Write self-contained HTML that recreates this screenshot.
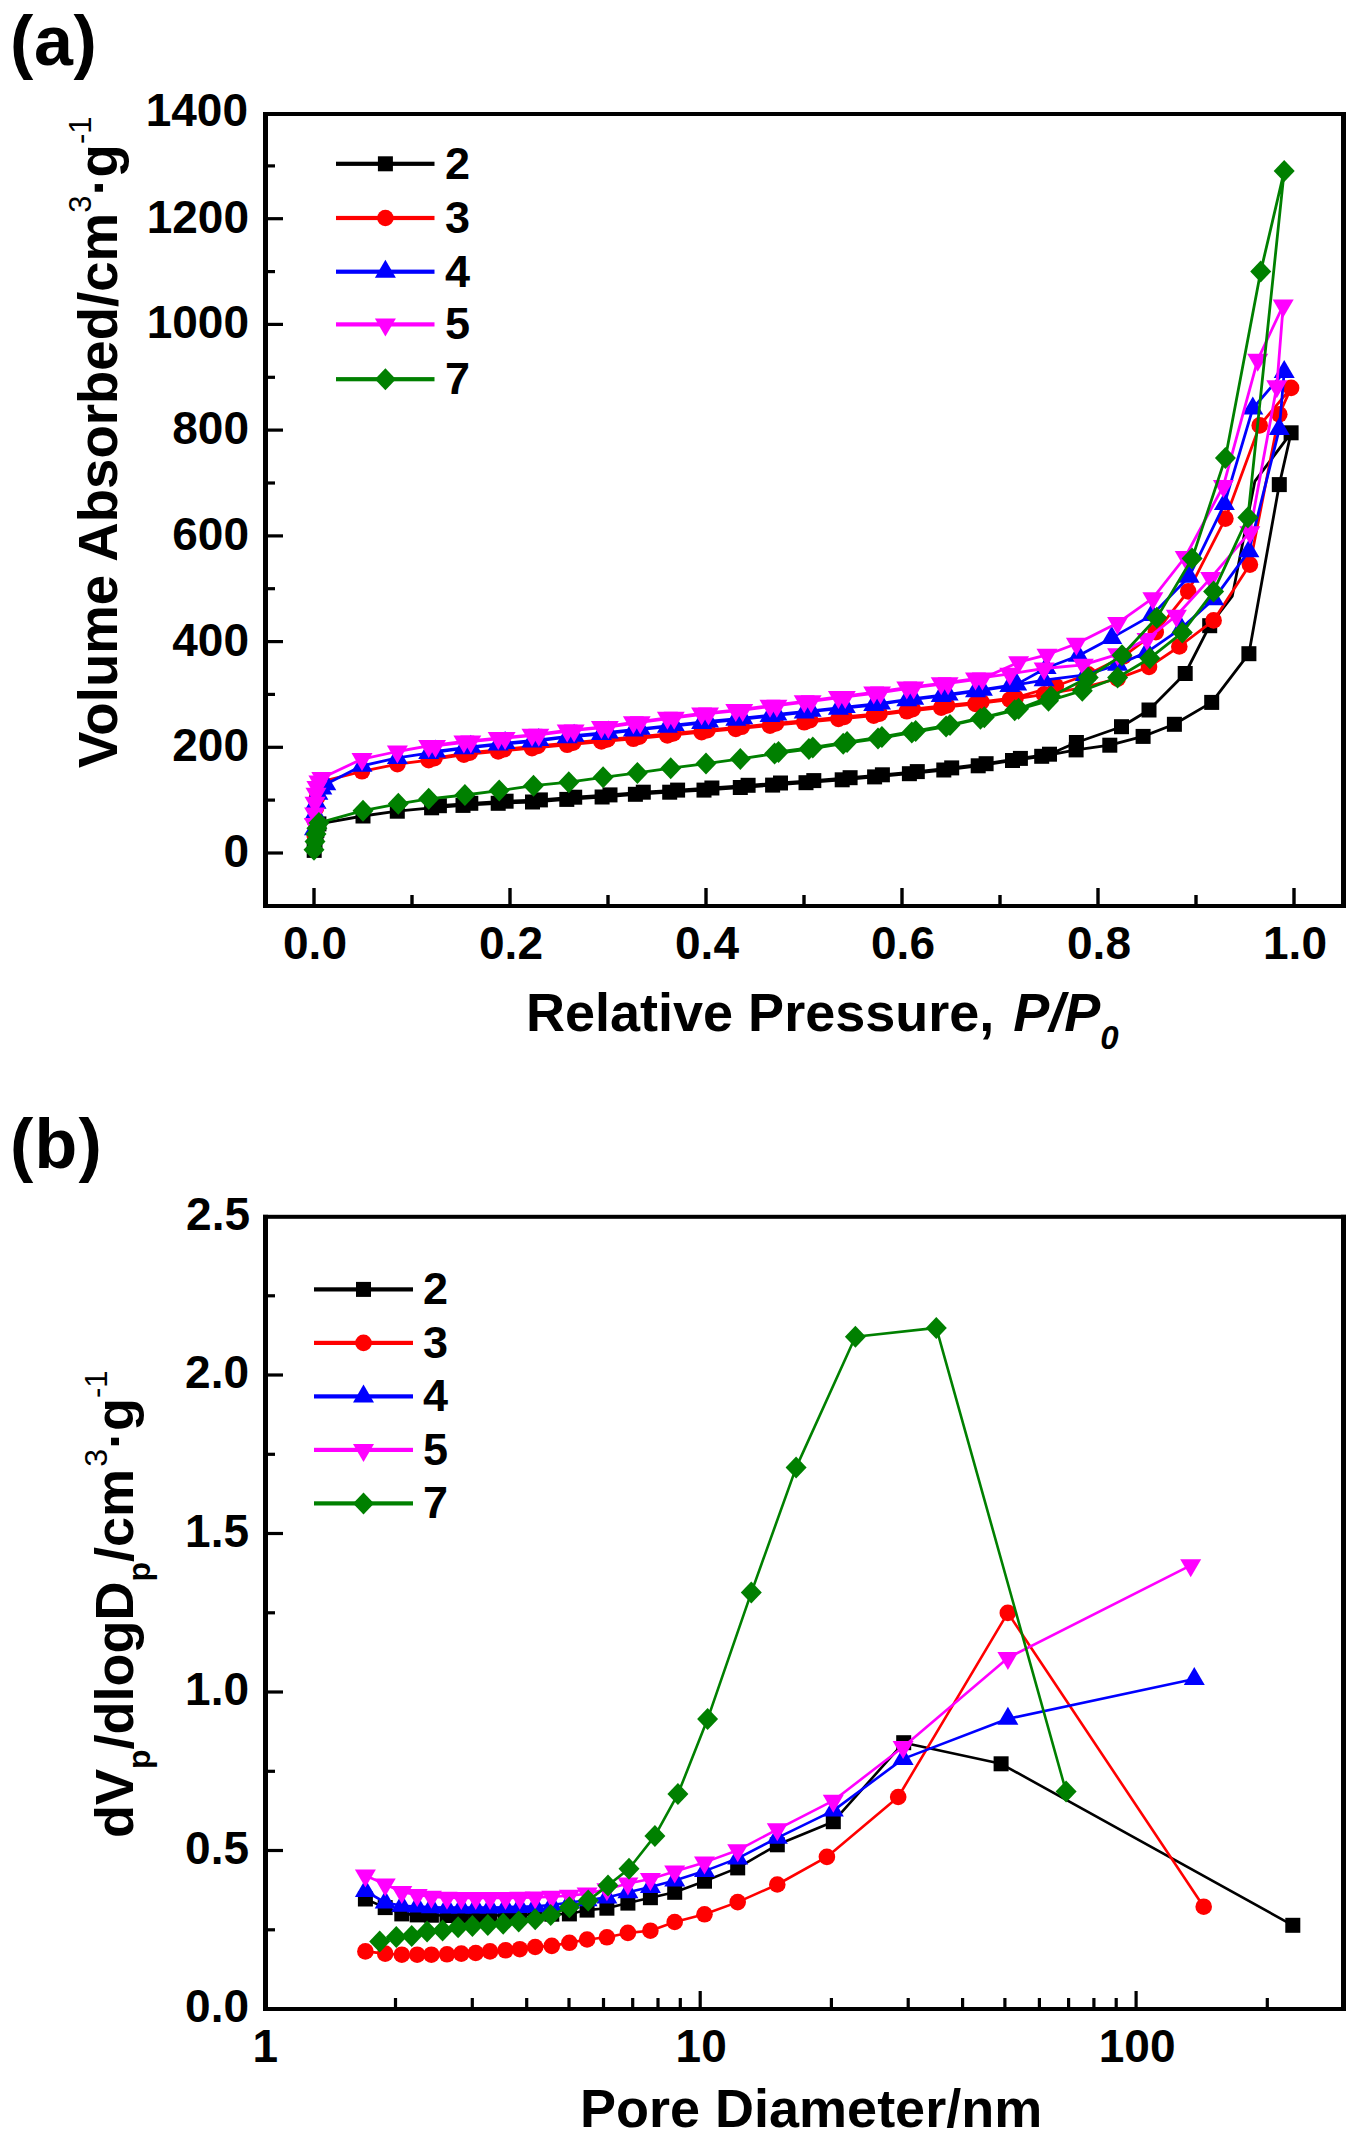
<!DOCTYPE html>
<html><head><meta charset="utf-8"><title>Figure</title>
<style>html,body{margin:0;padding:0;background:#fff;} svg{display:block;} text{font-family:"Liberation Sans",sans-serif;}</style>
</head><body>
<svg width="1360" height="2148" viewBox="0 0 1360 2148"><rect x="0" y="0" width="1360" height="2148" fill="#fff"/>
<text x="10" y="65" font-family="Liberation Sans" font-weight="bold" font-size="70" letter-spacing="0.6">(a)</text>
<path d="M314.2 850.4 L315.0 841.4 L316.0 834.5 L316.9 830.3 L318.9 823.9 L363.0 816.0 L397.3 811.2 L431.6 807.8 L463.0 805.4 L498.2 803.3 L532.5 802.0 L566.8 799.4 L602.1 797.0 L635.4 794.3 L669.7 792.2 L704.0 790.1 L740.3 787.5 L772.6 785.1 L806.0 782.7 L842.2 779.8 L874.6 776.9 L909.4 773.7 L943.8 770.0 L978.2 765.8 L1012.5 760.5 L1041.7 756.3 L1076.1 749.9 L1109.8 745.2 L1143.1 736.4 L1174.4 724.3 L1211.7 702.4 L1248.9 653.7 L1279.3 484.6 L1291.1 432.8 L1254.8 481.4 L1232.3 596.1 L1209.7 625.7 L1185.2 673.5 L1149.0 710.0 L1121.5 726.7 L1076.4 742.5 L1049.5 754.2 L1020.4 758.4 L986.1 763.7 L951.7 767.9 L917.3 771.6 L882.4 774.8 L850.1 777.7 L813.8 780.6 L780.5 783.0 L748.1 785.3 L711.9 788.0 L677.6 790.1 L643.3 792.2 L610.0 794.9 L574.7 797.2 L540.4 799.9 L506.1 801.2 L470.8 803.3 L439.4 805.7" fill="none" stroke="#000000" stroke-width="2.8" stroke-linejoin="round"/>
<rect x="306.7" y="842.9" width="15.0" height="15.0" fill="#000000"/>
<rect x="307.5" y="833.9" width="15.0" height="15.0" fill="#000000"/>
<rect x="308.5" y="827.0" width="15.0" height="15.0" fill="#000000"/>
<rect x="309.4" y="822.8" width="15.0" height="15.0" fill="#000000"/>
<rect x="311.4" y="816.4" width="15.0" height="15.0" fill="#000000"/>
<rect x="355.5" y="808.5" width="15.0" height="15.0" fill="#000000"/>
<rect x="389.8" y="803.7" width="15.0" height="15.0" fill="#000000"/>
<rect x="424.1" y="800.3" width="15.0" height="15.0" fill="#000000"/>
<rect x="455.5" y="797.9" width="15.0" height="15.0" fill="#000000"/>
<rect x="490.7" y="795.8" width="15.0" height="15.0" fill="#000000"/>
<rect x="525.0" y="794.5" width="15.0" height="15.0" fill="#000000"/>
<rect x="559.3" y="791.9" width="15.0" height="15.0" fill="#000000"/>
<rect x="594.6" y="789.5" width="15.0" height="15.0" fill="#000000"/>
<rect x="627.9" y="786.8" width="15.0" height="15.0" fill="#000000"/>
<rect x="662.2" y="784.7" width="15.0" height="15.0" fill="#000000"/>
<rect x="696.5" y="782.6" width="15.0" height="15.0" fill="#000000"/>
<rect x="732.8" y="780.0" width="15.0" height="15.0" fill="#000000"/>
<rect x="765.1" y="777.6" width="15.0" height="15.0" fill="#000000"/>
<rect x="798.5" y="775.2" width="15.0" height="15.0" fill="#000000"/>
<rect x="834.7" y="772.3" width="15.0" height="15.0" fill="#000000"/>
<rect x="867.1" y="769.4" width="15.0" height="15.0" fill="#000000"/>
<rect x="901.9" y="766.2" width="15.0" height="15.0" fill="#000000"/>
<rect x="936.3" y="762.5" width="15.0" height="15.0" fill="#000000"/>
<rect x="970.7" y="758.3" width="15.0" height="15.0" fill="#000000"/>
<rect x="1005.0" y="753.0" width="15.0" height="15.0" fill="#000000"/>
<rect x="1034.2" y="748.8" width="15.0" height="15.0" fill="#000000"/>
<rect x="1068.6" y="742.4" width="15.0" height="15.0" fill="#000000"/>
<rect x="1102.3" y="737.7" width="15.0" height="15.0" fill="#000000"/>
<rect x="1135.6" y="728.9" width="15.0" height="15.0" fill="#000000"/>
<rect x="1166.9" y="716.8" width="15.0" height="15.0" fill="#000000"/>
<rect x="1204.2" y="694.9" width="15.0" height="15.0" fill="#000000"/>
<rect x="1241.4" y="646.2" width="15.0" height="15.0" fill="#000000"/>
<rect x="1271.8" y="477.1" width="15.0" height="15.0" fill="#000000"/>
<rect x="1283.6" y="425.3" width="15.0" height="15.0" fill="#000000"/>
<rect x="1202.2" y="618.2" width="15.0" height="15.0" fill="#000000"/>
<rect x="1177.7" y="666.0" width="15.0" height="15.0" fill="#000000"/>
<rect x="1141.5" y="702.5" width="15.0" height="15.0" fill="#000000"/>
<rect x="1114.0" y="719.2" width="15.0" height="15.0" fill="#000000"/>
<rect x="1068.9" y="735.0" width="15.0" height="15.0" fill="#000000"/>
<rect x="1042.0" y="746.7" width="15.0" height="15.0" fill="#000000"/>
<rect x="1012.9" y="750.9" width="15.0" height="15.0" fill="#000000"/>
<rect x="978.6" y="756.2" width="15.0" height="15.0" fill="#000000"/>
<rect x="944.2" y="760.4" width="15.0" height="15.0" fill="#000000"/>
<rect x="909.8" y="764.1" width="15.0" height="15.0" fill="#000000"/>
<rect x="874.9" y="767.3" width="15.0" height="15.0" fill="#000000"/>
<rect x="842.6" y="770.2" width="15.0" height="15.0" fill="#000000"/>
<rect x="806.3" y="773.1" width="15.0" height="15.0" fill="#000000"/>
<rect x="773.0" y="775.5" width="15.0" height="15.0" fill="#000000"/>
<rect x="740.6" y="777.8" width="15.0" height="15.0" fill="#000000"/>
<rect x="704.4" y="780.5" width="15.0" height="15.0" fill="#000000"/>
<rect x="670.1" y="782.6" width="15.0" height="15.0" fill="#000000"/>
<rect x="635.8" y="784.7" width="15.0" height="15.0" fill="#000000"/>
<rect x="602.5" y="787.4" width="15.0" height="15.0" fill="#000000"/>
<rect x="567.2" y="789.7" width="15.0" height="15.0" fill="#000000"/>
<rect x="532.9" y="792.4" width="15.0" height="15.0" fill="#000000"/>
<rect x="498.6" y="793.7" width="15.0" height="15.0" fill="#000000"/>
<rect x="463.3" y="795.8" width="15.0" height="15.0" fill="#000000"/>
<rect x="431.9" y="798.2" width="15.0" height="15.0" fill="#000000"/>
<path d="M314.5 834.5 L315.0 821.3 L316.0 808.1 L316.9 797.5 L318.9 789.6 L321.8 781.6 L362.0 771.3 L397.4 764.2 L428.7 760.2 L463.9 754.7 L498.2 751.4 L532.0 748.1 L567.2 744.8 L601.4 741.5 L633.4 738.8 L667.4 735.5 L701.6 732.2 L735.8 728.9 L770.0 725.6 L804.2 722.3 L838.4 719.0 L873.7 715.7 L906.8 711.3 L941.2 707.6 L975.5 703.9 L1009.8 699.7 L1044.1 694.4 L1083.3 687.6 L1117.6 678.6 L1149.0 666.9 L1179.3 646.5 L1213.6 620.4 L1249.9 564.6 L1279.3 414.3 L1291.1 387.9 L1259.7 425.4 L1225.4 518.6 L1188.2 591.4 L1155.8 632.1 L1123.5 656.4 L1088.2 674.3 L1055.9 686.0 L1015.7 697.6 L981.4 701.8 L947.1 705.5 L912.7 709.2 L879.6 713.6 L844.3 716.9 L810.1 720.2 L775.9 723.5 L741.7 726.8 L707.5 730.1 L673.3 733.4 L639.3 736.7 L607.3 739.4 L573.1 742.7 L537.8 746.0 L504.1 749.3 L469.8 752.6 L434.5 758.1" fill="none" stroke="#ff0000" stroke-width="2.8" stroke-linejoin="round"/>
<circle cx="314.5" cy="834.5" r="8.3" fill="#ff0000"/>
<circle cx="315.0" cy="821.3" r="8.3" fill="#ff0000"/>
<circle cx="316.0" cy="808.1" r="8.3" fill="#ff0000"/>
<circle cx="316.9" cy="797.5" r="8.3" fill="#ff0000"/>
<circle cx="318.9" cy="789.6" r="8.3" fill="#ff0000"/>
<circle cx="321.8" cy="781.6" r="8.3" fill="#ff0000"/>
<circle cx="362.0" cy="771.3" r="8.3" fill="#ff0000"/>
<circle cx="397.4" cy="764.2" r="8.3" fill="#ff0000"/>
<circle cx="428.7" cy="760.2" r="8.3" fill="#ff0000"/>
<circle cx="463.9" cy="754.7" r="8.3" fill="#ff0000"/>
<circle cx="498.2" cy="751.4" r="8.3" fill="#ff0000"/>
<circle cx="532.0" cy="748.1" r="8.3" fill="#ff0000"/>
<circle cx="567.2" cy="744.8" r="8.3" fill="#ff0000"/>
<circle cx="601.4" cy="741.5" r="8.3" fill="#ff0000"/>
<circle cx="633.4" cy="738.8" r="8.3" fill="#ff0000"/>
<circle cx="667.4" cy="735.5" r="8.3" fill="#ff0000"/>
<circle cx="701.6" cy="732.2" r="8.3" fill="#ff0000"/>
<circle cx="735.8" cy="728.9" r="8.3" fill="#ff0000"/>
<circle cx="770.0" cy="725.6" r="8.3" fill="#ff0000"/>
<circle cx="804.2" cy="722.3" r="8.3" fill="#ff0000"/>
<circle cx="838.4" cy="719.0" r="8.3" fill="#ff0000"/>
<circle cx="873.7" cy="715.7" r="8.3" fill="#ff0000"/>
<circle cx="906.8" cy="711.3" r="8.3" fill="#ff0000"/>
<circle cx="941.2" cy="707.6" r="8.3" fill="#ff0000"/>
<circle cx="975.5" cy="703.9" r="8.3" fill="#ff0000"/>
<circle cx="1009.8" cy="699.7" r="8.3" fill="#ff0000"/>
<circle cx="1044.1" cy="694.4" r="8.3" fill="#ff0000"/>
<circle cx="1083.3" cy="687.6" r="8.3" fill="#ff0000"/>
<circle cx="1117.6" cy="678.6" r="8.3" fill="#ff0000"/>
<circle cx="1149.0" cy="666.9" r="8.3" fill="#ff0000"/>
<circle cx="1179.3" cy="646.5" r="8.3" fill="#ff0000"/>
<circle cx="1213.6" cy="620.4" r="8.3" fill="#ff0000"/>
<circle cx="1249.9" cy="564.6" r="8.3" fill="#ff0000"/>
<circle cx="1279.3" cy="414.3" r="8.3" fill="#ff0000"/>
<circle cx="1291.1" cy="387.9" r="8.3" fill="#ff0000"/>
<circle cx="1259.7" cy="425.4" r="8.3" fill="#ff0000"/>
<circle cx="1225.4" cy="518.6" r="8.3" fill="#ff0000"/>
<circle cx="1188.2" cy="591.4" r="8.3" fill="#ff0000"/>
<circle cx="1155.8" cy="632.1" r="8.3" fill="#ff0000"/>
<circle cx="1123.5" cy="656.4" r="8.3" fill="#ff0000"/>
<circle cx="1088.2" cy="674.3" r="8.3" fill="#ff0000"/>
<circle cx="1055.9" cy="686.0" r="8.3" fill="#ff0000"/>
<circle cx="1015.7" cy="697.6" r="8.3" fill="#ff0000"/>
<circle cx="981.4" cy="701.8" r="8.3" fill="#ff0000"/>
<circle cx="947.1" cy="705.5" r="8.3" fill="#ff0000"/>
<circle cx="912.7" cy="709.2" r="8.3" fill="#ff0000"/>
<circle cx="879.6" cy="713.6" r="8.3" fill="#ff0000"/>
<circle cx="844.3" cy="716.9" r="8.3" fill="#ff0000"/>
<circle cx="810.1" cy="720.2" r="8.3" fill="#ff0000"/>
<circle cx="775.9" cy="723.5" r="8.3" fill="#ff0000"/>
<circle cx="741.7" cy="726.8" r="8.3" fill="#ff0000"/>
<circle cx="707.5" cy="730.1" r="8.3" fill="#ff0000"/>
<circle cx="673.3" cy="733.4" r="8.3" fill="#ff0000"/>
<circle cx="639.3" cy="736.7" r="8.3" fill="#ff0000"/>
<circle cx="607.3" cy="739.4" r="8.3" fill="#ff0000"/>
<circle cx="573.1" cy="742.7" r="8.3" fill="#ff0000"/>
<circle cx="537.8" cy="746.0" r="8.3" fill="#ff0000"/>
<circle cx="504.1" cy="749.3" r="8.3" fill="#ff0000"/>
<circle cx="469.8" cy="752.6" r="8.3" fill="#ff0000"/>
<circle cx="434.5" cy="758.1" r="8.3" fill="#ff0000"/>
<path d="M314.5 829.2 L315.0 813.4 L316.0 802.8 L317.9 793.8 L321.8 788.5 L325.8 784.3 L362.0 765.8 L397.4 757.9 L428.7 753.1 L463.9 748.3 L498.2 744.6 L532.0 741.5 L567.2 737.2 L601.4 734.1 L633.4 730.4 L667.4 726.7 L701.6 723.0 L735.8 719.8 L770.0 716.1 L804.2 712.4 L838.4 708.7 L873.7 705.0 L906.8 700.2 L941.2 696.0 L975.5 691.3 L1009.8 686.0 L1044.1 680.2 L1085.3 674.9 L1117.6 664.8 L1147.0 652.1 L1181.3 628.4 L1213.6 599.3 L1248.9 551.2 L1279.3 429.1 L1284.2 372.0 L1252.8 408.5 L1224.4 504.1 L1189.1 576.7 L1151.9 615.1 L1111.7 637.9 L1078.4 655.8 L1046.1 668.0 L1016.7 684.4 L982.4 689.7 L948.1 694.4 L913.7 698.7 L880.5 703.4 L845.3 707.1 L811.1 710.8 L776.9 714.5 L742.7 718.2 L708.5 721.4 L674.2 725.1 L640.2 728.8 L608.3 732.5 L574.1 735.7 L538.8 739.9 L505.1 743.1 L470.8 746.8 L435.5 751.5" fill="none" stroke="#0000ff" stroke-width="2.8" stroke-linejoin="round"/>
<path d="M314.5 817.2L325.0 835.2L304.0 835.2Z" fill="#0000ff"/>
<path d="M315.0 801.4L325.5 819.4L304.5 819.4Z" fill="#0000ff"/>
<path d="M316.0 790.8L326.5 808.8L305.5 808.8Z" fill="#0000ff"/>
<path d="M317.9 781.8L328.4 799.8L307.4 799.8Z" fill="#0000ff"/>
<path d="M321.8 776.5L332.3 794.5L311.3 794.5Z" fill="#0000ff"/>
<path d="M325.8 772.3L336.3 790.3L315.3 790.3Z" fill="#0000ff"/>
<path d="M362.0 753.8L372.5 771.8L351.5 771.8Z" fill="#0000ff"/>
<path d="M397.4 745.9L407.9 763.9L386.9 763.9Z" fill="#0000ff"/>
<path d="M428.7 741.1L439.2 759.1L418.2 759.1Z" fill="#0000ff"/>
<path d="M463.9 736.3L474.4 754.3L453.4 754.3Z" fill="#0000ff"/>
<path d="M498.2 732.6L508.7 750.6L487.7 750.6Z" fill="#0000ff"/>
<path d="M532.0 729.5L542.5 747.5L521.5 747.5Z" fill="#0000ff"/>
<path d="M567.2 725.2L577.7 743.2L556.7 743.2Z" fill="#0000ff"/>
<path d="M601.4 722.1L611.9 740.1L590.9 740.1Z" fill="#0000ff"/>
<path d="M633.4 718.4L643.9 736.4L622.9 736.4Z" fill="#0000ff"/>
<path d="M667.4 714.7L677.9 732.7L656.9 732.7Z" fill="#0000ff"/>
<path d="M701.6 711.0L712.1 729.0L691.1 729.0Z" fill="#0000ff"/>
<path d="M735.8 707.8L746.3 725.8L725.3 725.8Z" fill="#0000ff"/>
<path d="M770.0 704.1L780.5 722.1L759.5 722.1Z" fill="#0000ff"/>
<path d="M804.2 700.4L814.7 718.4L793.7 718.4Z" fill="#0000ff"/>
<path d="M838.4 696.7L848.9 714.7L827.9 714.7Z" fill="#0000ff"/>
<path d="M873.7 693.0L884.2 711.0L863.2 711.0Z" fill="#0000ff"/>
<path d="M906.8 688.2L917.3 706.2L896.3 706.2Z" fill="#0000ff"/>
<path d="M941.2 684.0L951.7 702.0L930.7 702.0Z" fill="#0000ff"/>
<path d="M975.5 679.3L986.0 697.3L965.0 697.3Z" fill="#0000ff"/>
<path d="M1009.8 674.0L1020.3 692.0L999.3 692.0Z" fill="#0000ff"/>
<path d="M1044.1 668.2L1054.6 686.2L1033.6 686.2Z" fill="#0000ff"/>
<path d="M1085.3 662.9L1095.8 680.9L1074.8 680.9Z" fill="#0000ff"/>
<path d="M1117.6 652.8L1128.1 670.8L1107.1 670.8Z" fill="#0000ff"/>
<path d="M1147.0 640.1L1157.5 658.1L1136.5 658.1Z" fill="#0000ff"/>
<path d="M1181.3 616.4L1191.8 634.4L1170.8 634.4Z" fill="#0000ff"/>
<path d="M1213.6 587.3L1224.1 605.3L1203.1 605.3Z" fill="#0000ff"/>
<path d="M1248.9 539.2L1259.4 557.2L1238.4 557.2Z" fill="#0000ff"/>
<path d="M1279.3 417.1L1289.8 435.1L1268.8 435.1Z" fill="#0000ff"/>
<path d="M1284.2 360.0L1294.7 378.0L1273.7 378.0Z" fill="#0000ff"/>
<path d="M1252.8 396.5L1263.3 414.5L1242.3 414.5Z" fill="#0000ff"/>
<path d="M1224.4 492.1L1234.9 510.1L1213.9 510.1Z" fill="#0000ff"/>
<path d="M1189.1 564.7L1199.6 582.7L1178.6 582.7Z" fill="#0000ff"/>
<path d="M1151.9 603.1L1162.4 621.1L1141.4 621.1Z" fill="#0000ff"/>
<path d="M1111.7 625.9L1122.2 643.9L1101.2 643.9Z" fill="#0000ff"/>
<path d="M1078.4 643.8L1088.9 661.8L1067.9 661.8Z" fill="#0000ff"/>
<path d="M1046.1 656.0L1056.6 674.0L1035.6 674.0Z" fill="#0000ff"/>
<path d="M1016.7 672.4L1027.2 690.4L1006.2 690.4Z" fill="#0000ff"/>
<path d="M982.4 677.7L992.9 695.7L971.9 695.7Z" fill="#0000ff"/>
<path d="M948.1 682.4L958.6 700.4L937.6 700.4Z" fill="#0000ff"/>
<path d="M913.7 686.7L924.2 704.7L903.2 704.7Z" fill="#0000ff"/>
<path d="M880.5 691.4L891.0 709.4L870.0 709.4Z" fill="#0000ff"/>
<path d="M845.3 695.1L855.8 713.1L834.8 713.1Z" fill="#0000ff"/>
<path d="M811.1 698.8L821.6 716.8L800.6 716.8Z" fill="#0000ff"/>
<path d="M776.9 702.5L787.4 720.5L766.4 720.5Z" fill="#0000ff"/>
<path d="M742.7 706.2L753.2 724.2L732.2 724.2Z" fill="#0000ff"/>
<path d="M708.5 709.4L719.0 727.4L698.0 727.4Z" fill="#0000ff"/>
<path d="M674.2 713.1L684.7 731.1L663.7 731.1Z" fill="#0000ff"/>
<path d="M640.2 716.8L650.7 734.8L629.7 734.8Z" fill="#0000ff"/>
<path d="M608.3 720.5L618.8 738.5L597.8 738.5Z" fill="#0000ff"/>
<path d="M574.1 723.7L584.6 741.7L563.6 741.7Z" fill="#0000ff"/>
<path d="M538.8 727.9L549.3 745.9L528.3 745.9Z" fill="#0000ff"/>
<path d="M505.1 731.1L515.6 749.1L494.6 749.1Z" fill="#0000ff"/>
<path d="M470.8 734.8L481.3 752.8L460.3 752.8Z" fill="#0000ff"/>
<path d="M435.5 739.5L446.0 757.5L425.0 757.5Z" fill="#0000ff"/>
<path d="M314.3 823.9 L314.6 813.4 L315.0 802.8 L316.0 793.8 L316.9 786.9 L318.9 781.6 L321.8 777.9 L362.0 759.1 L397.4 751.5 L428.7 745.9 L463.9 741.5 L498.2 738.1 L532.0 734.8 L567.2 730.4 L601.4 727.1 L633.4 722.3 L667.4 717.8 L701.6 713.5 L735.8 710.1 L770.0 705.7 L804.2 701.3 L838.4 696.9 L873.7 692.5 L906.8 687.6 L941.2 683.3 L975.5 678.6 L1009.8 673.8 L1044.1 668.5 L1083.3 664.8 L1117.6 654.3 L1147.0 638.9 L1176.4 615.7 L1210.7 578.1 L1249.9 532.2 L1276.8 386.3 L1283.2 305.4 L1257.7 359.8 L1223.4 485.9 L1185.2 557.0 L1152.9 598.2 L1117.6 623.1 L1076.4 643.7 L1047.0 654.8 L1018.6 662.2 L982.4 678.6 L948.1 683.3 L913.7 687.6 L880.5 692.5 L845.3 696.9 L811.1 701.3 L776.9 705.7 L742.7 710.1 L708.5 713.5 L674.2 717.8 L640.2 722.3 L608.3 727.1 L574.1 730.4 L538.8 734.8 L505.1 738.1 L470.8 741.5 L435.5 745.9" fill="none" stroke="#ff00ff" stroke-width="2.8" stroke-linejoin="round"/>
<path d="M314.3 835.9L324.8 817.9L303.8 817.9Z" fill="#ff00ff"/>
<path d="M314.6 825.4L325.1 807.4L304.1 807.4Z" fill="#ff00ff"/>
<path d="M315.0 814.8L325.5 796.8L304.5 796.8Z" fill="#ff00ff"/>
<path d="M316.0 805.8L326.5 787.8L305.5 787.8Z" fill="#ff00ff"/>
<path d="M316.9 798.9L327.4 780.9L306.4 780.9Z" fill="#ff00ff"/>
<path d="M318.9 793.6L329.4 775.6L308.4 775.6Z" fill="#ff00ff"/>
<path d="M321.8 789.9L332.3 771.9L311.3 771.9Z" fill="#ff00ff"/>
<path d="M362.0 771.1L372.5 753.1L351.5 753.1Z" fill="#ff00ff"/>
<path d="M397.4 763.5L407.9 745.5L386.9 745.5Z" fill="#ff00ff"/>
<path d="M428.7 757.9L439.2 739.9L418.2 739.9Z" fill="#ff00ff"/>
<path d="M463.9 753.5L474.4 735.5L453.4 735.5Z" fill="#ff00ff"/>
<path d="M498.2 750.1L508.7 732.1L487.7 732.1Z" fill="#ff00ff"/>
<path d="M532.0 746.8L542.5 728.8L521.5 728.8Z" fill="#ff00ff"/>
<path d="M567.2 742.4L577.7 724.4L556.7 724.4Z" fill="#ff00ff"/>
<path d="M601.4 739.1L611.9 721.1L590.9 721.1Z" fill="#ff00ff"/>
<path d="M633.4 734.3L643.9 716.3L622.9 716.3Z" fill="#ff00ff"/>
<path d="M667.4 729.8L677.9 711.8L656.9 711.8Z" fill="#ff00ff"/>
<path d="M701.6 725.5L712.1 707.5L691.1 707.5Z" fill="#ff00ff"/>
<path d="M735.8 722.1L746.3 704.1L725.3 704.1Z" fill="#ff00ff"/>
<path d="M770.0 717.7L780.5 699.7L759.5 699.7Z" fill="#ff00ff"/>
<path d="M804.2 713.3L814.7 695.3L793.7 695.3Z" fill="#ff00ff"/>
<path d="M838.4 708.9L848.9 690.9L827.9 690.9Z" fill="#ff00ff"/>
<path d="M873.7 704.5L884.2 686.5L863.2 686.5Z" fill="#ff00ff"/>
<path d="M906.8 699.6L917.3 681.6L896.3 681.6Z" fill="#ff00ff"/>
<path d="M941.2 695.3L951.7 677.3L930.7 677.3Z" fill="#ff00ff"/>
<path d="M975.5 690.6L986.0 672.6L965.0 672.6Z" fill="#ff00ff"/>
<path d="M1009.8 685.8L1020.3 667.8L999.3 667.8Z" fill="#ff00ff"/>
<path d="M1044.1 680.5L1054.6 662.5L1033.6 662.5Z" fill="#ff00ff"/>
<path d="M1083.3 676.8L1093.8 658.8L1072.8 658.8Z" fill="#ff00ff"/>
<path d="M1117.6 666.3L1128.1 648.3L1107.1 648.3Z" fill="#ff00ff"/>
<path d="M1147.0 650.9L1157.5 632.9L1136.5 632.9Z" fill="#ff00ff"/>
<path d="M1176.4 627.7L1186.9 609.7L1165.9 609.7Z" fill="#ff00ff"/>
<path d="M1210.7 590.1L1221.2 572.1L1200.2 572.1Z" fill="#ff00ff"/>
<path d="M1249.9 544.2L1260.4 526.2L1239.4 526.2Z" fill="#ff00ff"/>
<path d="M1276.8 398.3L1287.3 380.3L1266.3 380.3Z" fill="#ff00ff"/>
<path d="M1283.2 317.4L1293.7 299.4L1272.7 299.4Z" fill="#ff00ff"/>
<path d="M1257.7 371.8L1268.2 353.8L1247.2 353.8Z" fill="#ff00ff"/>
<path d="M1223.4 497.9L1233.9 479.9L1212.9 479.9Z" fill="#ff00ff"/>
<path d="M1185.2 569.0L1195.7 551.0L1174.7 551.0Z" fill="#ff00ff"/>
<path d="M1152.9 610.2L1163.4 592.2L1142.4 592.2Z" fill="#ff00ff"/>
<path d="M1117.6 635.1L1128.1 617.1L1107.1 617.1Z" fill="#ff00ff"/>
<path d="M1076.4 655.7L1086.9 637.7L1065.9 637.7Z" fill="#ff00ff"/>
<path d="M1047.0 666.8L1057.5 648.8L1036.5 648.8Z" fill="#ff00ff"/>
<path d="M1018.6 674.2L1029.1 656.2L1008.1 656.2Z" fill="#ff00ff"/>
<path d="M982.4 690.6L992.9 672.6L971.9 672.6Z" fill="#ff00ff"/>
<path d="M948.1 695.3L958.6 677.3L937.6 677.3Z" fill="#ff00ff"/>
<path d="M913.7 699.6L924.2 681.6L903.2 681.6Z" fill="#ff00ff"/>
<path d="M880.5 704.5L891.0 686.5L870.0 686.5Z" fill="#ff00ff"/>
<path d="M845.3 708.9L855.8 690.9L834.8 690.9Z" fill="#ff00ff"/>
<path d="M811.1 713.3L821.6 695.3L800.6 695.3Z" fill="#ff00ff"/>
<path d="M776.9 717.7L787.4 699.7L766.4 699.7Z" fill="#ff00ff"/>
<path d="M742.7 722.1L753.2 704.1L732.2 704.1Z" fill="#ff00ff"/>
<path d="M708.5 725.5L719.0 707.5L698.0 707.5Z" fill="#ff00ff"/>
<path d="M674.2 729.8L684.7 711.8L663.7 711.8Z" fill="#ff00ff"/>
<path d="M640.2 734.3L650.7 716.3L629.7 716.3Z" fill="#ff00ff"/>
<path d="M608.3 739.1L618.8 721.1L597.8 721.1Z" fill="#ff00ff"/>
<path d="M574.1 742.4L584.6 724.4L563.6 724.4Z" fill="#ff00ff"/>
<path d="M538.8 746.8L549.3 728.8L528.3 728.8Z" fill="#ff00ff"/>
<path d="M505.1 750.1L515.6 732.1L494.6 732.1Z" fill="#ff00ff"/>
<path d="M470.8 753.5L481.3 735.5L460.3 735.5Z" fill="#ff00ff"/>
<path d="M435.5 757.9L446.0 739.9L425.0 739.9Z" fill="#ff00ff"/>
<path d="M314.0 849.8 L315.0 841.4 L316.0 834.0 L316.9 828.2 L318.9 822.9 L363.0 810.7 L398.3 803.8 L428.7 798.8 L464.9 795.0 L499.2 790.6 L533.5 785.7 L568.8 782.2 L603.1 777.3 L637.4 772.9 L670.7 768.2 L706.0 763.6 L740.3 758.9 L774.6 753.6 L808.9 749.0 L843.2 743.7 L878.0 738.6 L911.8 732.5 L946.1 726.5 L980.4 718.7 L1014.7 710.3 L1048.5 700.8 L1082.3 690.7 L1117.6 677.5 L1149.9 658.2 L1182.3 632.6 L1213.6 591.4 L1247.9 517.4 L1284.2 171.1 L1260.7 271.6 L1225.4 457.9 L1192.1 558.6 L1156.8 617.8 L1122.0 655.3 L1088.2 677.5 L1051.0 696.5 L1018.6 708.7 L984.3 717.2 L950.0 724.9 L915.7 730.9 L881.9 737.0 L847.1 742.1 L812.8 747.4 L778.5 752.0" fill="none" stroke="#008000" stroke-width="2.8" stroke-linejoin="round"/>
<path d="M314.0 838.8L324.5 849.8L314.0 860.8L303.5 849.8Z" fill="#008000"/>
<path d="M315.0 830.4L325.5 841.4L315.0 852.4L304.5 841.4Z" fill="#008000"/>
<path d="M316.0 823.0L326.5 834.0L316.0 845.0L305.5 834.0Z" fill="#008000"/>
<path d="M316.9 817.2L327.4 828.2L316.9 839.2L306.4 828.2Z" fill="#008000"/>
<path d="M318.9 811.9L329.4 822.9L318.9 833.9L308.4 822.9Z" fill="#008000"/>
<path d="M363.0 799.7L373.5 810.7L363.0 821.7L352.5 810.7Z" fill="#008000"/>
<path d="M398.3 792.8L408.8 803.8L398.3 814.8L387.8 803.8Z" fill="#008000"/>
<path d="M428.7 787.8L439.2 798.8L428.7 809.8L418.2 798.8Z" fill="#008000"/>
<path d="M464.9 784.0L475.4 795.0L464.9 806.0L454.4 795.0Z" fill="#008000"/>
<path d="M499.2 779.6L509.7 790.6L499.2 801.6L488.7 790.6Z" fill="#008000"/>
<path d="M533.5 774.7L544.0 785.7L533.5 796.7L523.0 785.7Z" fill="#008000"/>
<path d="M568.8 771.2L579.3 782.2L568.8 793.2L558.3 782.2Z" fill="#008000"/>
<path d="M603.1 766.3L613.6 777.3L603.1 788.3L592.6 777.3Z" fill="#008000"/>
<path d="M637.4 761.9L647.9 772.9L637.4 783.9L626.9 772.9Z" fill="#008000"/>
<path d="M670.7 757.2L681.2 768.2L670.7 779.2L660.2 768.2Z" fill="#008000"/>
<path d="M706.0 752.6L716.5 763.6L706.0 774.6L695.5 763.6Z" fill="#008000"/>
<path d="M740.3 747.9L750.8 758.9L740.3 769.9L729.8 758.9Z" fill="#008000"/>
<path d="M774.6 742.6L785.1 753.6L774.6 764.6L764.1 753.6Z" fill="#008000"/>
<path d="M808.9 738.0L819.4 749.0L808.9 760.0L798.4 749.0Z" fill="#008000"/>
<path d="M843.2 732.7L853.7 743.7L843.2 754.7L832.7 743.7Z" fill="#008000"/>
<path d="M878.0 727.6L888.5 738.6L878.0 749.6L867.5 738.6Z" fill="#008000"/>
<path d="M911.8 721.5L922.3 732.5L911.8 743.5L901.3 732.5Z" fill="#008000"/>
<path d="M946.1 715.5L956.6 726.5L946.1 737.5L935.6 726.5Z" fill="#008000"/>
<path d="M980.4 707.7L990.9 718.7L980.4 729.7L969.9 718.7Z" fill="#008000"/>
<path d="M1014.7 699.3L1025.2 710.3L1014.7 721.3L1004.2 710.3Z" fill="#008000"/>
<path d="M1048.5 689.8L1059.0 700.8L1048.5 711.8L1038.0 700.8Z" fill="#008000"/>
<path d="M1082.3 679.7L1092.8 690.7L1082.3 701.7L1071.8 690.7Z" fill="#008000"/>
<path d="M1117.6 666.5L1128.1 677.5L1117.6 688.5L1107.1 677.5Z" fill="#008000"/>
<path d="M1149.9 647.2L1160.4 658.2L1149.9 669.2L1139.4 658.2Z" fill="#008000"/>
<path d="M1182.3 621.6L1192.8 632.6L1182.3 643.6L1171.8 632.6Z" fill="#008000"/>
<path d="M1213.6 580.4L1224.1 591.4L1213.6 602.4L1203.1 591.4Z" fill="#008000"/>
<path d="M1247.9 506.4L1258.4 517.4L1247.9 528.4L1237.4 517.4Z" fill="#008000"/>
<path d="M1284.2 160.1L1294.7 171.1L1284.2 182.1L1273.7 171.1Z" fill="#008000"/>
<path d="M1260.7 260.6L1271.2 271.6L1260.7 282.6L1250.2 271.6Z" fill="#008000"/>
<path d="M1225.4 446.9L1235.9 457.9L1225.4 468.9L1214.9 457.9Z" fill="#008000"/>
<path d="M1192.1 547.6L1202.6 558.6L1192.1 569.6L1181.6 558.6Z" fill="#008000"/>
<path d="M1156.8 606.8L1167.3 617.8L1156.8 628.8L1146.3 617.8Z" fill="#008000"/>
<path d="M1122.0 644.3L1132.5 655.3L1122.0 666.3L1111.5 655.3Z" fill="#008000"/>
<path d="M1088.2 666.5L1098.7 677.5L1088.2 688.5L1077.7 677.5Z" fill="#008000"/>
<path d="M1051.0 685.5L1061.5 696.5L1051.0 707.5L1040.5 696.5Z" fill="#008000"/>
<path d="M1018.6 697.7L1029.1 708.7L1018.6 719.7L1008.1 708.7Z" fill="#008000"/>
<path d="M984.3 706.2L994.8 717.2L984.3 728.2L973.8 717.2Z" fill="#008000"/>
<path d="M950.0 713.9L960.5 724.9L950.0 735.9L939.5 724.9Z" fill="#008000"/>
<path d="M915.7 719.9L926.2 730.9L915.7 741.9L905.2 730.9Z" fill="#008000"/>
<path d="M881.9 726.0L892.4 737.0L881.9 748.0L871.4 737.0Z" fill="#008000"/>
<path d="M847.1 731.1L857.6 742.1L847.1 753.1L836.6 742.1Z" fill="#008000"/>
<path d="M812.8 736.4L823.3 747.4L812.8 758.4L802.3 747.4Z" fill="#008000"/>
<path d="M778.5 741.0L789.0 752.0L778.5 763.0L768.0 752.0Z" fill="#008000"/>
<rect x="336" y="161.7" width="98.5" height="4.2" fill="#000000"/>
<rect x="377.9" y="156.3" width="15.0" height="15.0" fill="#000000"/>
<text x="445" y="178.8" font-family="Liberation Sans" font-weight="bold" font-size="45">2</text>
<rect x="336" y="215.9" width="98.5" height="4.2" fill="#ff0000"/>
<circle cx="385.4" cy="218.0" r="8.3" fill="#ff0000"/>
<text x="445" y="233.0" font-family="Liberation Sans" font-weight="bold" font-size="45">3</text>
<rect x="336" y="269.6" width="98.5" height="4.2" fill="#0000ff"/>
<path d="M385.4 259.7L395.9 277.7L374.9 277.7Z" fill="#0000ff"/>
<text x="445" y="286.7" font-family="Liberation Sans" font-weight="bold" font-size="45">4</text>
<rect x="336" y="322.3" width="98.5" height="4.2" fill="#ff00ff"/>
<path d="M385.4 336.4L395.9 318.4L374.9 318.4Z" fill="#ff00ff"/>
<text x="445" y="339.4" font-family="Liberation Sans" font-weight="bold" font-size="45">5</text>
<rect x="336" y="377.1" width="98.5" height="4.2" fill="#008000"/>
<path d="M385.4 368.2L395.9 379.2L385.4 390.2L374.9 379.2Z" fill="#008000"/>
<text x="445" y="394.2" font-family="Liberation Sans" font-weight="bold" font-size="45">7</text>
<path d="M365.4 1899.0 L385.2 1907.6 L401.8 1913.9 L417.2 1914.9 L431.4 1915.2 L447.0 1915.5 L461.3 1915.5 L475.7 1915.5 L490.0 1915.5 L505.5 1915.2 L519.8 1914.9 L535.2 1914.5 L551.8 1914.2 L569.4 1913.9 L587.1 1910.1 L606.9 1908.2 L627.9 1903.1 L650.4 1897.7 L674.7 1892.3 L704.5 1881.2 L737.7 1867.9 L777.3 1844.8 L833.3 1821.7 L903.7 1742.7 L1001.1 1763.8 L1292.8 1925.3" fill="none" stroke="#000000" stroke-width="2.6" stroke-linejoin="round"/>
<rect x="357.9" y="1891.5" width="15.0" height="15.0" fill="#000000"/>
<rect x="377.7" y="1900.1" width="15.0" height="15.0" fill="#000000"/>
<rect x="394.3" y="1906.4" width="15.0" height="15.0" fill="#000000"/>
<rect x="409.7" y="1907.4" width="15.0" height="15.0" fill="#000000"/>
<rect x="423.9" y="1907.7" width="15.0" height="15.0" fill="#000000"/>
<rect x="439.5" y="1908.0" width="15.0" height="15.0" fill="#000000"/>
<rect x="453.8" y="1908.0" width="15.0" height="15.0" fill="#000000"/>
<rect x="468.2" y="1908.0" width="15.0" height="15.0" fill="#000000"/>
<rect x="482.5" y="1908.0" width="15.0" height="15.0" fill="#000000"/>
<rect x="498.0" y="1907.7" width="15.0" height="15.0" fill="#000000"/>
<rect x="512.3" y="1907.4" width="15.0" height="15.0" fill="#000000"/>
<rect x="527.7" y="1907.0" width="15.0" height="15.0" fill="#000000"/>
<rect x="544.3" y="1906.7" width="15.0" height="15.0" fill="#000000"/>
<rect x="561.9" y="1906.4" width="15.0" height="15.0" fill="#000000"/>
<rect x="579.6" y="1902.6" width="15.0" height="15.0" fill="#000000"/>
<rect x="599.4" y="1900.7" width="15.0" height="15.0" fill="#000000"/>
<rect x="620.4" y="1895.6" width="15.0" height="15.0" fill="#000000"/>
<rect x="642.9" y="1890.2" width="15.0" height="15.0" fill="#000000"/>
<rect x="667.2" y="1884.8" width="15.0" height="15.0" fill="#000000"/>
<rect x="697.0" y="1873.7" width="15.0" height="15.0" fill="#000000"/>
<rect x="730.2" y="1860.4" width="15.0" height="15.0" fill="#000000"/>
<rect x="769.8" y="1837.3" width="15.0" height="15.0" fill="#000000"/>
<rect x="825.8" y="1814.2" width="15.0" height="15.0" fill="#000000"/>
<rect x="896.2" y="1735.2" width="15.0" height="15.0" fill="#000000"/>
<rect x="993.6" y="1756.3" width="15.0" height="15.0" fill="#000000"/>
<rect x="1285.3" y="1917.8" width="15.0" height="15.0" fill="#000000"/>
<path d="M365.4 1951.4 L385.2 1953.6 L401.8 1954.7 L417.2 1954.7 L431.4 1954.7 L447.0 1954.3 L461.3 1953.6 L475.7 1953.0 L490.0 1951.4 L505.5 1950.3 L519.8 1949.2 L535.2 1947.0 L551.8 1945.9 L569.4 1942.8 L587.1 1939.5 L606.9 1937.3 L627.9 1932.9 L650.4 1930.7 L674.7 1922.0 L704.5 1914.3 L737.7 1902.1 L777.3 1884.5 L826.9 1856.9 L898.2 1797.0 L1007.8 1612.9 L1203.7 1906.7" fill="none" stroke="#ff0000" stroke-width="2.6" stroke-linejoin="round"/>
<circle cx="365.4" cy="1951.4" r="8.3" fill="#ff0000"/>
<circle cx="385.2" cy="1953.6" r="8.3" fill="#ff0000"/>
<circle cx="401.8" cy="1954.7" r="8.3" fill="#ff0000"/>
<circle cx="417.2" cy="1954.7" r="8.3" fill="#ff0000"/>
<circle cx="431.4" cy="1954.7" r="8.3" fill="#ff0000"/>
<circle cx="447.0" cy="1954.3" r="8.3" fill="#ff0000"/>
<circle cx="461.3" cy="1953.6" r="8.3" fill="#ff0000"/>
<circle cx="475.7" cy="1953.0" r="8.3" fill="#ff0000"/>
<circle cx="490.0" cy="1951.4" r="8.3" fill="#ff0000"/>
<circle cx="505.5" cy="1950.3" r="8.3" fill="#ff0000"/>
<circle cx="519.8" cy="1949.2" r="8.3" fill="#ff0000"/>
<circle cx="535.2" cy="1947.0" r="8.3" fill="#ff0000"/>
<circle cx="551.8" cy="1945.9" r="8.3" fill="#ff0000"/>
<circle cx="569.4" cy="1942.8" r="8.3" fill="#ff0000"/>
<circle cx="587.1" cy="1939.5" r="8.3" fill="#ff0000"/>
<circle cx="606.9" cy="1937.3" r="8.3" fill="#ff0000"/>
<circle cx="627.9" cy="1932.9" r="8.3" fill="#ff0000"/>
<circle cx="650.4" cy="1930.7" r="8.3" fill="#ff0000"/>
<circle cx="674.7" cy="1922.0" r="8.3" fill="#ff0000"/>
<circle cx="704.5" cy="1914.3" r="8.3" fill="#ff0000"/>
<circle cx="737.7" cy="1902.1" r="8.3" fill="#ff0000"/>
<circle cx="777.3" cy="1884.5" r="8.3" fill="#ff0000"/>
<circle cx="826.9" cy="1856.9" r="8.3" fill="#ff0000"/>
<circle cx="898.2" cy="1797.0" r="8.3" fill="#ff0000"/>
<circle cx="1007.8" cy="1612.9" r="8.3" fill="#ff0000"/>
<circle cx="1203.7" cy="1906.7" r="8.3" fill="#ff0000"/>
<path d="M365.4 1891.1 L385.2 1902.5 L401.8 1905.7 L417.2 1906.6 L431.4 1907.2 L447.0 1907.6 L461.3 1907.6 L475.7 1907.6 L490.0 1907.6 L505.5 1907.2 L519.8 1906.9 L535.2 1906.3 L551.8 1905.0 L569.4 1902.5 L587.1 1900.3 L606.9 1897.4 L627.9 1892.3 L650.4 1887.0 L674.7 1880.6 L704.5 1871.1 L737.7 1858.4 L777.3 1837.8 L833.3 1810.6 L903.1 1758.9 L1007.9 1718.8 L1194.3 1679.1" fill="none" stroke="#0000ff" stroke-width="2.6" stroke-linejoin="round"/>
<path d="M365.4 1879.1L375.9 1897.1L354.9 1897.1Z" fill="#0000ff"/>
<path d="M385.2 1890.5L395.7 1908.5L374.7 1908.5Z" fill="#0000ff"/>
<path d="M401.8 1893.7L412.3 1911.7L391.3 1911.7Z" fill="#0000ff"/>
<path d="M417.2 1894.6L427.7 1912.6L406.7 1912.6Z" fill="#0000ff"/>
<path d="M431.4 1895.2L441.9 1913.2L420.9 1913.2Z" fill="#0000ff"/>
<path d="M447.0 1895.6L457.5 1913.6L436.5 1913.6Z" fill="#0000ff"/>
<path d="M461.3 1895.6L471.8 1913.6L450.8 1913.6Z" fill="#0000ff"/>
<path d="M475.7 1895.6L486.2 1913.6L465.2 1913.6Z" fill="#0000ff"/>
<path d="M490.0 1895.6L500.5 1913.6L479.5 1913.6Z" fill="#0000ff"/>
<path d="M505.5 1895.2L516.0 1913.2L495.0 1913.2Z" fill="#0000ff"/>
<path d="M519.8 1894.9L530.3 1912.9L509.3 1912.9Z" fill="#0000ff"/>
<path d="M535.2 1894.3L545.7 1912.3L524.7 1912.3Z" fill="#0000ff"/>
<path d="M551.8 1893.0L562.3 1911.0L541.3 1911.0Z" fill="#0000ff"/>
<path d="M569.4 1890.5L579.9 1908.5L558.9 1908.5Z" fill="#0000ff"/>
<path d="M587.1 1888.3L597.6 1906.3L576.6 1906.3Z" fill="#0000ff"/>
<path d="M606.9 1885.4L617.4 1903.4L596.4 1903.4Z" fill="#0000ff"/>
<path d="M627.9 1880.3L638.4 1898.3L617.4 1898.3Z" fill="#0000ff"/>
<path d="M650.4 1875.0L660.9 1893.0L639.9 1893.0Z" fill="#0000ff"/>
<path d="M674.7 1868.6L685.2 1886.6L664.2 1886.6Z" fill="#0000ff"/>
<path d="M704.5 1859.1L715.0 1877.1L694.0 1877.1Z" fill="#0000ff"/>
<path d="M737.7 1846.4L748.2 1864.4L727.2 1864.4Z" fill="#0000ff"/>
<path d="M777.3 1825.8L787.8 1843.8L766.8 1843.8Z" fill="#0000ff"/>
<path d="M833.3 1798.6L843.8 1816.6L822.8 1816.6Z" fill="#0000ff"/>
<path d="M903.1 1746.9L913.6 1764.9L892.6 1764.9Z" fill="#0000ff"/>
<path d="M1007.9 1706.8L1018.4 1724.8L997.4 1724.8Z" fill="#0000ff"/>
<path d="M1194.3 1667.1L1204.8 1685.1L1183.8 1685.1Z" fill="#0000ff"/>
<path d="M365.4 1875.5 L385.2 1884.4 L401.8 1892.0 L417.2 1894.9 L431.4 1896.8 L447.0 1897.7 L461.3 1898.0 L475.7 1898.0 L490.0 1898.0 L505.5 1898.0 L519.8 1897.7 L535.2 1897.4 L551.8 1896.8 L569.4 1895.8 L587.1 1893.6 L606.9 1889.2 L627.9 1883.5 L650.4 1879.0 L674.7 1871.4 L704.5 1862.4 L737.7 1850.3 L777.3 1829.3 L833.3 1800.7 L903.1 1747.0 L1007.9 1657.9 L1190.7 1565.3" fill="none" stroke="#ff00ff" stroke-width="2.6" stroke-linejoin="round"/>
<path d="M365.4 1887.5L375.9 1869.5L354.9 1869.5Z" fill="#ff00ff"/>
<path d="M385.2 1896.4L395.7 1878.4L374.7 1878.4Z" fill="#ff00ff"/>
<path d="M401.8 1904.0L412.3 1886.0L391.3 1886.0Z" fill="#ff00ff"/>
<path d="M417.2 1906.9L427.7 1888.9L406.7 1888.9Z" fill="#ff00ff"/>
<path d="M431.4 1908.8L441.9 1890.8L420.9 1890.8Z" fill="#ff00ff"/>
<path d="M447.0 1909.7L457.5 1891.7L436.5 1891.7Z" fill="#ff00ff"/>
<path d="M461.3 1910.0L471.8 1892.0L450.8 1892.0Z" fill="#ff00ff"/>
<path d="M475.7 1910.0L486.2 1892.0L465.2 1892.0Z" fill="#ff00ff"/>
<path d="M490.0 1910.0L500.5 1892.0L479.5 1892.0Z" fill="#ff00ff"/>
<path d="M505.5 1910.0L516.0 1892.0L495.0 1892.0Z" fill="#ff00ff"/>
<path d="M519.8 1909.7L530.3 1891.7L509.3 1891.7Z" fill="#ff00ff"/>
<path d="M535.2 1909.4L545.7 1891.4L524.7 1891.4Z" fill="#ff00ff"/>
<path d="M551.8 1908.8L562.3 1890.8L541.3 1890.8Z" fill="#ff00ff"/>
<path d="M569.4 1907.8L579.9 1889.8L558.9 1889.8Z" fill="#ff00ff"/>
<path d="M587.1 1905.6L597.6 1887.6L576.6 1887.6Z" fill="#ff00ff"/>
<path d="M606.9 1901.2L617.4 1883.2L596.4 1883.2Z" fill="#ff00ff"/>
<path d="M627.9 1895.5L638.4 1877.5L617.4 1877.5Z" fill="#ff00ff"/>
<path d="M650.4 1891.0L660.9 1873.0L639.9 1873.0Z" fill="#ff00ff"/>
<path d="M674.7 1883.4L685.2 1865.4L664.2 1865.4Z" fill="#ff00ff"/>
<path d="M704.5 1874.4L715.0 1856.4L694.0 1856.4Z" fill="#ff00ff"/>
<path d="M737.7 1862.3L748.2 1844.3L727.2 1844.3Z" fill="#ff00ff"/>
<path d="M777.3 1841.3L787.8 1823.3L766.8 1823.3Z" fill="#ff00ff"/>
<path d="M833.3 1812.7L843.8 1794.7L822.8 1794.7Z" fill="#ff00ff"/>
<path d="M903.1 1759.0L913.6 1741.0L892.6 1741.0Z" fill="#ff00ff"/>
<path d="M1007.9 1669.9L1018.4 1651.9L997.4 1651.9Z" fill="#ff00ff"/>
<path d="M1190.7 1577.3L1201.2 1559.3L1180.2 1559.3Z" fill="#ff00ff"/>
<path d="M379.7 1941.5 L396.3 1937.0 L411.7 1936.1 L427.1 1931.5 L442.6 1930.4 L458.1 1927.2 L472.4 1925.9 L487.8 1925.0 L503.2 1923.7 L518.7 1921.5 L535.2 1919.3 L550.7 1915.0 L569.4 1907.2 L588.2 1900.6 L608.0 1885.4 L629.0 1868.7 L654.9 1835.9 L677.9 1794.1 L707.6 1719.1 L751.3 1592.6 L796.1 1467.6 L855.4 1336.8 L936.3 1327.9 L1066.1 1791.6" fill="none" stroke="#008000" stroke-width="2.6" stroke-linejoin="round"/>
<path d="M379.7 1930.5L390.2 1941.5L379.7 1952.5L369.2 1941.5Z" fill="#008000"/>
<path d="M396.3 1926.0L406.8 1937.0L396.3 1948.0L385.8 1937.0Z" fill="#008000"/>
<path d="M411.7 1925.1L422.2 1936.1L411.7 1947.1L401.2 1936.1Z" fill="#008000"/>
<path d="M427.1 1920.5L437.6 1931.5L427.1 1942.5L416.6 1931.5Z" fill="#008000"/>
<path d="M442.6 1919.4L453.1 1930.4L442.6 1941.4L432.1 1930.4Z" fill="#008000"/>
<path d="M458.1 1916.2L468.6 1927.2L458.1 1938.2L447.6 1927.2Z" fill="#008000"/>
<path d="M472.4 1914.9L482.9 1925.9L472.4 1936.9L461.9 1925.9Z" fill="#008000"/>
<path d="M487.8 1914.0L498.3 1925.0L487.8 1936.0L477.3 1925.0Z" fill="#008000"/>
<path d="M503.2 1912.7L513.7 1923.7L503.2 1934.7L492.7 1923.7Z" fill="#008000"/>
<path d="M518.7 1910.5L529.2 1921.5L518.7 1932.5L508.2 1921.5Z" fill="#008000"/>
<path d="M535.2 1908.3L545.7 1919.3L535.2 1930.3L524.7 1919.3Z" fill="#008000"/>
<path d="M550.7 1904.0L561.2 1915.0L550.7 1926.0L540.2 1915.0Z" fill="#008000"/>
<path d="M569.4 1896.2L579.9 1907.2L569.4 1918.2L558.9 1907.2Z" fill="#008000"/>
<path d="M588.2 1889.6L598.7 1900.6L588.2 1911.6L577.7 1900.6Z" fill="#008000"/>
<path d="M608.0 1874.4L618.5 1885.4L608.0 1896.4L597.5 1885.4Z" fill="#008000"/>
<path d="M629.0 1857.7L639.5 1868.7L629.0 1879.7L618.5 1868.7Z" fill="#008000"/>
<path d="M654.9 1824.9L665.4 1835.9L654.9 1846.9L644.4 1835.9Z" fill="#008000"/>
<path d="M677.9 1783.1L688.4 1794.1L677.9 1805.1L667.4 1794.1Z" fill="#008000"/>
<path d="M707.6 1708.1L718.1 1719.1L707.6 1730.1L697.1 1719.1Z" fill="#008000"/>
<path d="M751.3 1581.6L761.8 1592.6L751.3 1603.6L740.8 1592.6Z" fill="#008000"/>
<path d="M796.1 1456.6L806.6 1467.6L796.1 1478.6L785.6 1467.6Z" fill="#008000"/>
<path d="M855.4 1325.8L865.9 1336.8L855.4 1347.8L844.9 1336.8Z" fill="#008000"/>
<path d="M936.3 1316.9L946.8 1327.9L936.3 1338.9L925.8 1327.9Z" fill="#008000"/>
<path d="M1066.1 1780.6L1076.6 1791.6L1066.1 1802.6L1055.6 1791.6Z" fill="#008000"/>
<rect x="314" y="1287.3" width="99" height="4.2" fill="#000000"/>
<rect x="356.0" y="1281.9" width="15.0" height="15.0" fill="#000000"/>
<text x="423" y="1304.4" font-family="Liberation Sans" font-weight="bold" font-size="45">2</text>
<rect x="314" y="1340.8" width="99" height="4.2" fill="#ff0000"/>
<circle cx="363.5" cy="1342.9" r="8.3" fill="#ff0000"/>
<text x="423" y="1357.9" font-family="Liberation Sans" font-weight="bold" font-size="45">3</text>
<rect x="314" y="1394.3" width="99" height="4.2" fill="#0000ff"/>
<path d="M363.5 1384.4L374.0 1402.4L353.0 1402.4Z" fill="#0000ff"/>
<text x="423" y="1411.4" font-family="Liberation Sans" font-weight="bold" font-size="45">4</text>
<rect x="314" y="1447.8" width="99" height="4.2" fill="#ff00ff"/>
<path d="M363.5 1461.9L374.0 1443.9L353.0 1443.9Z" fill="#ff00ff"/>
<text x="423" y="1464.9" font-family="Liberation Sans" font-weight="bold" font-size="45">5</text>
<rect x="314" y="1501.3" width="99" height="4.2" fill="#008000"/>
<path d="M363.5 1492.4L374.0 1503.4L363.5 1514.4L353.0 1503.4Z" fill="#008000"/>
<text x="423" y="1518.4" font-family="Liberation Sans" font-weight="bold" font-size="45">7</text>
<rect x="263.0" y="112" width="1083.0" height="4" fill="#000"/>
<rect x="263.0" y="904" width="1083.0" height="4" fill="#000"/>
<rect x="263.0" y="112" width="5" height="796" fill="#000"/>
<rect x="1341.0" y="112" width="5" height="796" fill="#000"/>
<rect x="268" y="851.4" width="15" height="3.2" fill="#000"/>
<text x="249" y="867.0" font-family="Liberation Sans" font-weight="bold" font-size="46" text-anchor="end">0</text>
<rect x="268" y="798.5" width="7" height="3.2" fill="#000"/>
<rect x="268" y="745.7" width="15" height="3.2" fill="#000"/>
<text x="249" y="761.3" font-family="Liberation Sans" font-weight="bold" font-size="46" text-anchor="end">200</text>
<rect x="268" y="692.8" width="7" height="3.2" fill="#000"/>
<rect x="268" y="640.0" width="15" height="3.2" fill="#000"/>
<text x="249" y="655.6" font-family="Liberation Sans" font-weight="bold" font-size="46" text-anchor="end">400</text>
<rect x="268" y="587.1" width="7" height="3.2" fill="#000"/>
<rect x="268" y="534.3" width="15" height="3.2" fill="#000"/>
<text x="249" y="549.9" font-family="Liberation Sans" font-weight="bold" font-size="46" text-anchor="end">600</text>
<rect x="268" y="481.4" width="7" height="3.2" fill="#000"/>
<rect x="268" y="428.5" width="15" height="3.2" fill="#000"/>
<text x="249" y="444.1" font-family="Liberation Sans" font-weight="bold" font-size="46" text-anchor="end">800</text>
<rect x="268" y="375.7" width="7" height="3.2" fill="#000"/>
<rect x="268" y="322.8" width="15" height="3.2" fill="#000"/>
<text x="249" y="338.4" font-family="Liberation Sans" font-weight="bold" font-size="46" text-anchor="end">1000</text>
<rect x="268" y="270.0" width="7" height="3.2" fill="#000"/>
<rect x="268" y="217.1" width="15" height="3.2" fill="#000"/>
<text x="249" y="232.7" font-family="Liberation Sans" font-weight="bold" font-size="46" text-anchor="end">1200</text>
<rect x="268" y="164.3" width="7" height="3.2" fill="#000"/>
<text x="248" y="126.0" font-family="Liberation Sans" font-weight="bold" font-size="46" text-anchor="end">1400</text>
<rect x="312.3" y="888" width="3.4" height="16" fill="#000"/>
<text x="315.0" y="959" font-family="Liberation Sans" font-weight="bold" font-size="46" text-anchor="middle">0.0</text>
<rect x="410.3" y="895" width="3.4" height="9" fill="#000"/>
<rect x="508.3" y="888" width="3.4" height="16" fill="#000"/>
<text x="511.0" y="959" font-family="Liberation Sans" font-weight="bold" font-size="46" text-anchor="middle">0.2</text>
<rect x="606.3" y="895" width="3.4" height="9" fill="#000"/>
<rect x="704.3" y="888" width="3.4" height="16" fill="#000"/>
<text x="707.0" y="959" font-family="Liberation Sans" font-weight="bold" font-size="46" text-anchor="middle">0.4</text>
<rect x="802.3" y="895" width="3.4" height="9" fill="#000"/>
<rect x="900.3" y="888" width="3.4" height="16" fill="#000"/>
<text x="903.0" y="959" font-family="Liberation Sans" font-weight="bold" font-size="46" text-anchor="middle">0.6</text>
<rect x="998.3" y="895" width="3.4" height="9" fill="#000"/>
<rect x="1096.3" y="888" width="3.4" height="16" fill="#000"/>
<text x="1099.0" y="959" font-family="Liberation Sans" font-weight="bold" font-size="46" text-anchor="middle">0.8</text>
<rect x="1194.3" y="895" width="3.4" height="9" fill="#000"/>
<rect x="1292.3" y="888" width="3.4" height="16" fill="#000"/>
<text x="1295.0" y="959" font-family="Liberation Sans" font-weight="bold" font-size="46" text-anchor="middle">1.0</text>
<text x="526" y="1031" font-family="Liberation Sans" font-weight="bold" font-size="54">Relative Pressure, <tspan font-style="italic" dx="4">P/P</tspan><tspan font-style="italic" font-size="33" dy="18">0</tspan></text>
<text transform="translate(116.5,768) rotate(-90)" font-family="Liberation Sans" font-weight="bold" font-size="54.6">Volume Absorbed/cm<tspan font-weight="normal" font-size="31" dy="-26">3</tspan><tspan dy="26">·g</tspan><tspan font-weight="normal" font-size="31" dy="-26">-1</tspan></text>
<text x="10" y="1168" font-family="Liberation Sans" font-weight="bold" font-size="70" letter-spacing="1.2">(b)</text>
<rect x="263.0" y="1214.8" width="1083.0" height="4" fill="#000"/>
<rect x="263.0" y="2007" width="1083.0" height="4" fill="#000"/>
<rect x="263.0" y="1214.8" width="5" height="796.2" fill="#000"/>
<rect x="1341.0" y="1214.8" width="5" height="796.2" fill="#000"/>
<rect x="268" y="2007.4" width="15" height="3.2" fill="#000"/>
<text x="249" y="2022.0" font-family="Liberation Sans" font-weight="bold" font-size="46" text-anchor="end">0.0</text>
<rect x="268" y="1928.2" width="7" height="3.2" fill="#000"/>
<rect x="268" y="1848.9" width="15" height="3.2" fill="#000"/>
<text x="249" y="1863.5" font-family="Liberation Sans" font-weight="bold" font-size="46" text-anchor="end">0.5</text>
<rect x="268" y="1769.7" width="7" height="3.2" fill="#000"/>
<rect x="268" y="1690.4" width="15" height="3.2" fill="#000"/>
<text x="249" y="1705.0" font-family="Liberation Sans" font-weight="bold" font-size="46" text-anchor="end">1.0</text>
<rect x="268" y="1611.2" width="7" height="3.2" fill="#000"/>
<rect x="268" y="1531.9" width="15" height="3.2" fill="#000"/>
<text x="249" y="1546.5" font-family="Liberation Sans" font-weight="bold" font-size="46" text-anchor="end">1.5</text>
<rect x="268" y="1452.7" width="7" height="3.2" fill="#000"/>
<rect x="268" y="1373.4" width="15" height="3.2" fill="#000"/>
<text x="249" y="1388.0" font-family="Liberation Sans" font-weight="bold" font-size="46" text-anchor="end">2.0</text>
<rect x="268" y="1294.2" width="7" height="3.2" fill="#000"/>
<text x="250" y="1229.5" font-family="Liberation Sans" font-weight="bold" font-size="46" text-anchor="end">2.5</text>
<text x="265.3" y="2062" font-family="Liberation Sans" font-weight="bold" font-size="46" text-anchor="middle">1</text>
<rect x="393.9" y="1998" width="3.2" height="9" fill="#000"/>
<rect x="470.7" y="1998" width="3.2" height="9" fill="#000"/>
<rect x="525.1" y="1998" width="3.2" height="9" fill="#000"/>
<rect x="567.4" y="1998" width="3.2" height="9" fill="#000"/>
<rect x="601.9" y="1998" width="3.2" height="9" fill="#000"/>
<rect x="631.1" y="1998" width="3.2" height="9" fill="#000"/>
<rect x="656.4" y="1998" width="3.2" height="9" fill="#000"/>
<rect x="678.7" y="1998" width="3.2" height="9" fill="#000"/>
<rect x="698.6" y="1991" width="3.2" height="16" fill="#000"/>
<text x="701.2" y="2062" font-family="Liberation Sans" font-weight="bold" font-size="46" text-anchor="middle">10</text>
<rect x="829.8" y="1998" width="3.2" height="9" fill="#000"/>
<rect x="906.6" y="1998" width="3.2" height="9" fill="#000"/>
<rect x="961.0" y="1998" width="3.2" height="9" fill="#000"/>
<rect x="1003.3" y="1998" width="3.2" height="9" fill="#000"/>
<rect x="1037.8" y="1998" width="3.2" height="9" fill="#000"/>
<rect x="1067.0" y="1998" width="3.2" height="9" fill="#000"/>
<rect x="1092.3" y="1998" width="3.2" height="9" fill="#000"/>
<rect x="1114.6" y="1998" width="3.2" height="9" fill="#000"/>
<rect x="1134.5" y="1991" width="3.2" height="16" fill="#000"/>
<text x="1137.1" y="2062" font-family="Liberation Sans" font-weight="bold" font-size="46" text-anchor="middle">100</text>
<rect x="1265.7" y="1998" width="3.2" height="9" fill="#000"/>
<rect x="1342.5" y="1998" width="3.2" height="9" fill="#000"/>
<text x="580" y="2127" font-family="Liberation Sans" font-weight="bold" font-size="54">Pore Diameter/nm</text>
<text transform="translate(133,1838) rotate(-90)" font-family="Liberation Sans" font-weight="bold" font-size="54">dV<tspan font-size="32" dy="17">p</tspan><tspan dy="-17">/dlogD</tspan><tspan font-size="32" dy="17">p</tspan><tspan dy="-17">/cm</tspan><tspan font-weight="normal" font-size="32" dy="-26" dx="2">3</tspan><tspan dy="26">·g</tspan><tspan font-weight="normal" font-size="31" dy="-26">-1</tspan></text></svg>
</body></html>
